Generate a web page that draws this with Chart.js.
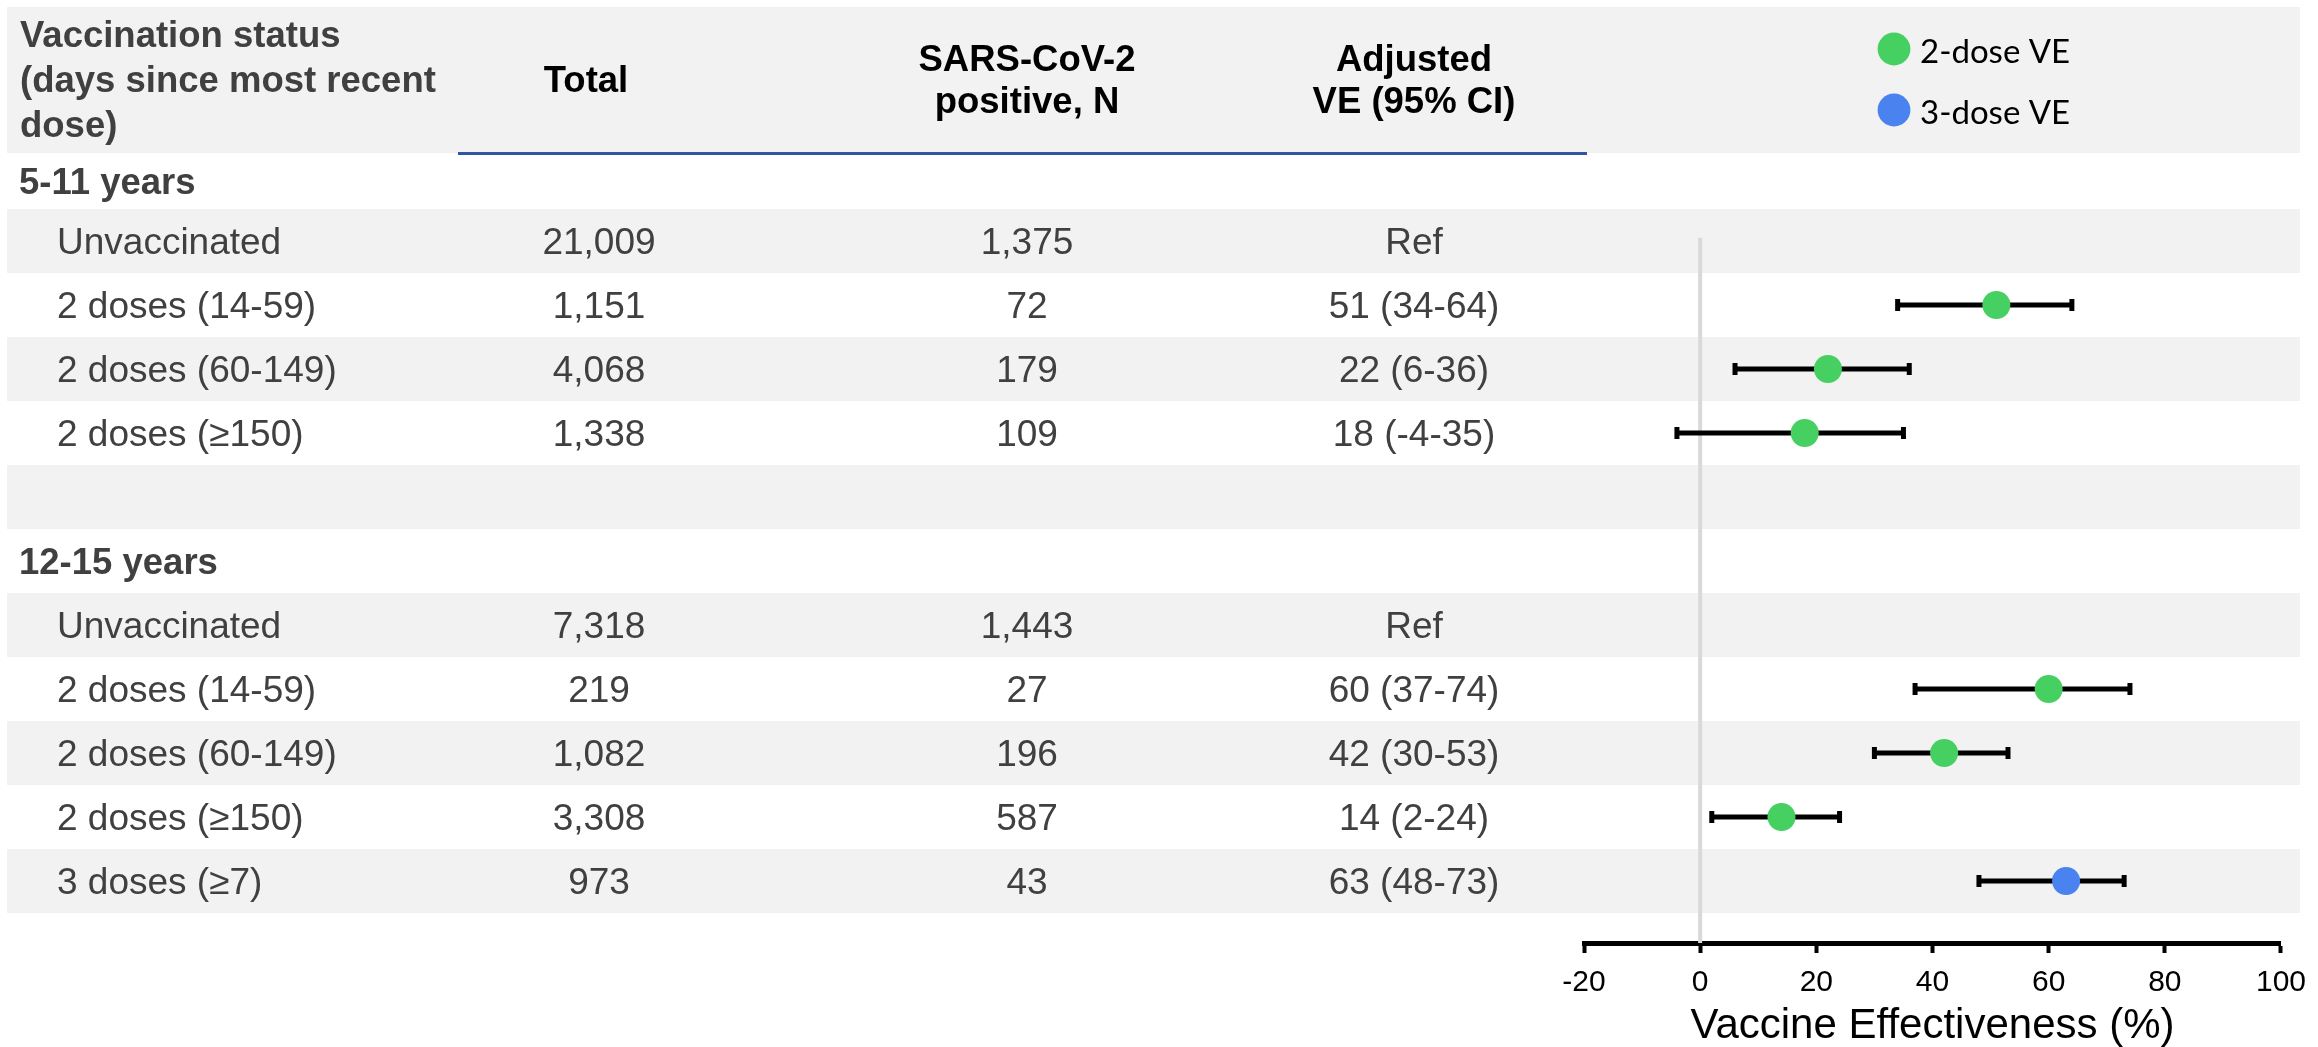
<!DOCTYPE html>
<html>
<head>
<meta charset="utf-8">
<script src="https://cdn.jsdelivr.net/npm/chart.js@4/dist/chart.umd.min.js"></script>
<style>
  html, body { margin: 0; padding: 0; background: #ffffff; }
  canvas { display: block; }
</style>
</head>
<body>
<canvas id="forest" width="2318" height="1047"></canvas>
<script>
// ---- Data -------------------------------------------------------------
const ageGroups = ["5-11 years", "12-15 years"];
const rowGroup = [0, 0, 0, 0, 1, 1, 1, 1, 1];
const statusLabels = [
  "Unvaccinated", "2 doses (14-59)", "2 doses (60-149)", "2 doses (\u2265150)",
  "Unvaccinated", "2 doses (14-59)", "2 doses (60-149)", "2 doses (\u2265150)", "3 doses (\u22657)"
];
const totals = ["21,009", "1,151", "4,068", "1,338", "7,318", "219", "1,082", "3,308", "973"];
const positives = ["1,375", "72", "179", "109", "1,443", "27", "196", "587", "43"];
const doseCount = [0, 2, 2, 2, 0, 2, 2, 2, 3];
const veEstimate = [null, 51, 22, 18, null, 60, 42, 14, 63];
const veLower = [null, 34, 6, -4, null, 37, 30, 2, 48];
const veUpper = [null, 64, 36, 35, null, 74, 53, 24, 73];
const xTickValues = [-20, 0, 20, 40, 60, 80, 100];
const headerLines = {
  status: ["Vaccination status", "(days since most recent", "dose)"],
  total: ["Total"],
  positive: ["SARS-CoV-2", "positive, N"],
  ve: ["Adjusted", "VE (95% CI)"]
};
const seriesNames = ["2-dose VE", "3-dose VE"];
const seriesColors = ["#47d062", "#4a82ef"];

// ---- Layout -----------------------------------------------------------
const W = 2318, H = 1047;
const PLOT_LEFT = 1584, PLOT_RIGHT = 2287, PLOT_TOP = 153, AXIS_Y = 943;
const ROW_H = 64, FIRST_ROW_Y = 241;
const BAND_LEFT = 7, BAND_RIGHT = 2300;
const FONT = "'Liberation Sans', Arial, Helvetica, sans-serif";

// slot index for every table row (one slot = one table line)
const slotOf = [];
const headingSlot = [];
let slot = -1;
ageGroups.forEach((g, gi) => {
  if (gi > 0) slot++;               // spacer line between age groups
  headingSlot.push(slot++);
  rowGroup.forEach((rg, i) => { if (rg === gi) slotOf[i] = slot++; });
});
const lastSlot = slot - 1;
const yMin = -(FIRST_ROW_Y - PLOT_TOP) / ROW_H;
const yMax = lastSlot + (AXIS_Y - (FIRST_ROW_Y + lastSlot * ROW_H)) / ROW_H;

const veText = i => veEstimate[i] === null ? "Ref" : `${veEstimate[i]} (${veLower[i]}-${veUpper[i]})`;

// ---- Datasets ---------------------------------------------------------
const markerSets = seriesNames.map((name, k) => ({
  type: "scatter",
  label: name,
  order: 1,
  data: veEstimate
    .map((v, i) => ({ x: v, y: slotOf[i], d: doseCount[i] }))
    .filter(p => p.x !== null && p.d === (k === 0 ? 2 : 3)),
  backgroundColor: seriesColors[k],
  borderColor: seriesColors[k],
  borderWidth: 0,
  pointRadius: 14,
  pointHoverRadius: 14,
  showLine: false
}));

const ciSets = veEstimate.map((v, i) => v === null ? null : ({
  type: "line",
  label: "ci-" + i,
  order: 2,
  data: [{ x: veLower[i], y: slotOf[i] }, { x: veUpper[i], y: slotOf[i] }],
  borderColor: "#000000",
  borderWidth: 5,
  pointStyle: "line",
  pointRotation: 90,
  pointRadius: 6,
  pointHoverRadius: 6,
  pointBorderWidth: 5,
  pointBorderColor: "#000000",
  pointBackgroundColor: "#000000",
  tension: 0
})).filter(Boolean);

const zeroLine = {
  type: "line",
  label: "zero",
  order: 3,
  data: [{ x: 0, y: slotOf[0] - 0.05 }, { x: 0, y: yMax }],
  borderColor: "#d9d9d9",
  borderWidth: 4,
  pointRadius: 0,
  pointHoverRadius: 0
};

// ---- Table, header and legend drawing ---------------------------------
const tablePlugin = {
  id: "vaccineTable",
  beforeDraw(chart) {
    const ctx = chart.ctx;
    const ys = chart.scales.y;
    const py = v => ys.getPixelForValue(v);
    ctx.save();
    ctx.fillStyle = "#ffffff";
    ctx.fillRect(0, 0, W, H);

    // shaded header and alternating row bands
    ctx.fillStyle = "#f2f2f2";
    ctx.fillRect(BAND_LEFT, 7, BAND_RIGHT - BAND_LEFT, PLOT_TOP - 7);
    for (let s = 0; s <= lastSlot; s += 2) {
      const t = Math.round(py(s - 0.5)), b = Math.round(py(s + 0.5));
      ctx.fillRect(BAND_LEFT, t, BAND_RIGHT - BAND_LEFT, b - t);
    }

    // rule under the numeric column headers
    ctx.fillStyle = "#2f55a4";
    ctx.fillRect(458, 152, 1129, 3);

    // column headers
    ctx.textBaseline = "alphabetic";
    ctx.font = "bold 36.5px " + FONT;
    ctx.fillStyle = "#404040";
    ctx.textAlign = "left";
    headerLines.status.forEach((t, k) => ctx.fillText(t, 20, 47 + 45 * k));
    ctx.fillStyle = "#000000";
    ctx.textAlign = "center";
    ctx.fillText(headerLines.total[0], 586, 92);
    headerLines.positive.forEach((t, k) => ctx.fillText(t, 1027, 71 + 42 * k));
    headerLines.ve.forEach((t, k) => ctx.fillText(t, 1414, 71 + 42 * k));

    // age group headings
    ctx.fillStyle = "#404040";
    ctx.textAlign = "left";
    headingSlot.forEach((s, gi) => {
      const top = Math.max(py(s - 0.5), PLOT_TOP);
      const bot = py(s + 0.5);
      ctx.fillText(ageGroups[gi], 19, (top + bot) / 2 + 12.5);
    });

    // table rows
    ctx.font = "37px " + FONT;
    statusLabels.forEach((lab, i) => {
      const base = py(slotOf[i]) + 12.5;
      ctx.textAlign = "left";
      ctx.fillText(lab, 57, base);
      ctx.textAlign = "center";
      ctx.fillText(totals[i], 599, base);
      ctx.fillText(positives[i], 1027, base);
      ctx.fillText(veText(i), 1414, base);
    });
    ctx.restore();
  },
  afterDraw(chart) {
    const ctx = chart.ctx;
    ctx.save();
    const legendY = [49, 110];
    chart.data.datasets.filter(d => d.type === "scatter").forEach((d, k) => {
      ctx.fillStyle = d.backgroundColor;
      ctx.beginPath();
      ctx.arc(1894, legendY[k], 16.4, 0, Math.PI * 2);
      ctx.fill();
      ctx.fillStyle = "#000000";
      ctx.font = "33px Lato, 'Open Sans', sans-serif";
      ctx.textAlign = "left";
      ctx.textBaseline = "alphabetic";
      ctx.fillText(d.label, 1920, legendY[k] + 14);
    });
    ctx.restore();
  }
};

// ---- Chart ------------------------------------------------------------
Chart.defaults.font.family = FONT;

new Chart(document.getElementById("forest"), {
  type: "scatter",
  data: { datasets: [...markerSets, ...ciSets, zeroLine] },
  plugins: [tablePlugin],
  options: {
    responsive: false,
    animation: false,
    devicePixelRatio: 1,
    events: [],
    layout: {
      padding: { left: PLOT_LEFT, right: W - PLOT_RIGHT, top: PLOT_TOP, bottom: 0 }
    },
    plugins: {
      legend: { display: false },
      tooltip: { enabled: false }
    },
    scales: {
      x: {
        type: "linear",
        position: "bottom",
        min: xTickValues[0],
        max: xTickValues[xTickValues.length - 1],
        afterBuildTicks: s => { s.ticks = xTickValues.map(v => ({ value: v })); },
        afterFit: s => { s.height = H - AXIS_Y; },
        border: { display: true, color: "#000000", width: 5 },
        grid: {
          display: true,
          drawOnChartArea: false,
          drawTicks: true,
          tickLength: 10,
          tickWidth: 4,
          tickColor: "#000000",
          color: "#000000"
        },
        ticks: {
          color: "#000000",
          font: { size: 30, family: FONT },
          padding: 12,
          maxRotation: 0,
          autoSkip: false
        },
        title: {
          display: true,
          text: "Vaccine Effectiveness (%)",
          color: "#000000",
          font: { size: 42, family: FONT, lineHeight: 1 },
          padding: { top: 0, bottom: 0 }
        }
      },
      y: {
        type: "linear",
        display: false,
        reverse: true,
        min: yMin,
        max: yMax
      }
    }
  }
});
</script>
</body>
</html>
